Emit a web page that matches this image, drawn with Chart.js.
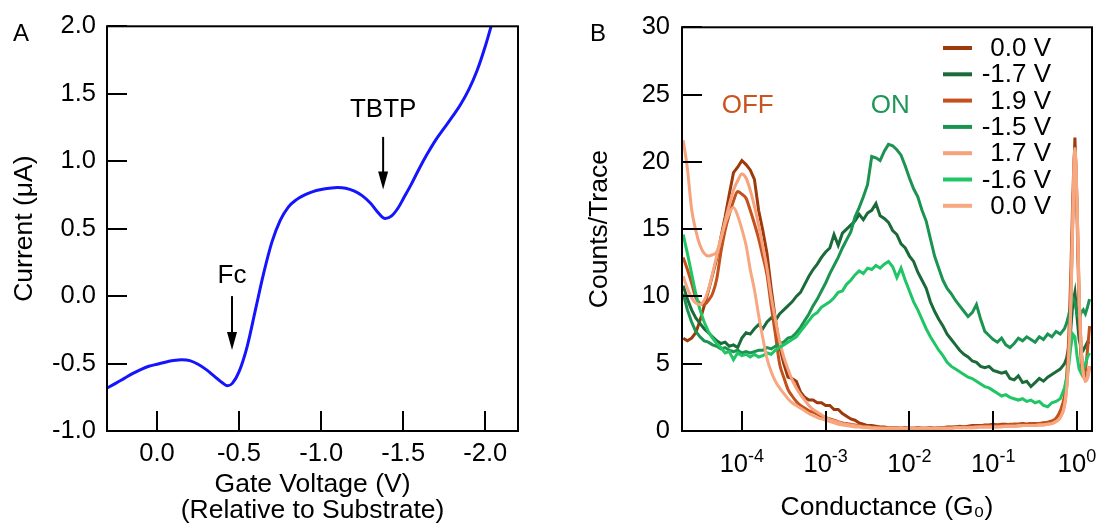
<!DOCTYPE html>
<html>
<head>
<meta charset="utf-8">
<script src="https://cdn.jsdelivr.net/npm/chart.js@4.4.1/dist/chart.umd.min.js"></script>
<style>
  body { margin: 0; background: #fff; }
  #wrap { position: relative; width: 1098px; height: 529px; }
  .panel { position: absolute; top: 0; width: 549px; height: 529px; }
</style>
</head>
<body>
<div id="wrap">
  <div class="panel" style="left:0"><canvas id="chartA"></canvas></div>
  <div class="panel" style="left:549px"><canvas id="chartB"></canvas></div>
</div>
<script>
const FONT = '"Liberation Sans", Arial, Helvetica, sans-serif';
Chart.defaults.font.family = FONT;
Chart.defaults.font.size = 25.5;
Chart.defaults.color = '#000';

// ---- Panel A : current vs gate voltage ----
const gateV = [0.31, 0.25, 0.20, 0.15, 0.10, 0.05, 0.00, -0.05, -0.10, -0.15,
  -0.20, -0.25, -0.30, -0.35, -0.40, -0.43, -0.46, -0.50, -0.55, -0.60,
  -0.65, -0.70, -0.75, -0.80, -0.85, -0.90, -0.95, -1.00, -1.05, -1.10,
  -1.15, -1.20, -1.25, -1.30, -1.35, -1.39, -1.43, -1.47, -1.50, -1.55,
  -1.60, -1.65, -1.70, -1.75, -1.80, -1.85, -1.90, -1.95, -2.00, -2.05];
const currentA = [-0.685, -0.645, -0.61, -0.575, -0.545, -0.52, -0.505, -0.49, -0.478, -0.472,
  -0.478, -0.505, -0.545, -0.595, -0.645, -0.665, -0.645, -0.56, -0.37, -0.10,
  0.17, 0.40, 0.56, 0.66, 0.715, 0.75, 0.775, 0.79, 0.80, 0.805,
  0.80, 0.78, 0.745, 0.69, 0.615, 0.575, 0.595, 0.655, 0.72, 0.83,
  0.95, 1.06, 1.16, 1.245, 1.33, 1.42, 1.53, 1.67, 1.85, 2.06];
const voltTicks = [0, -0.5, -1, -1.5, -2];
const currentTicks = [-1, -0.5, 0, 0.5, 1, 1.5, 2];

// ---- Panel B : conductance histograms ----
const logG = [-4.70, -4.65, -4.60, -4.55, -4.50, -4.45, -4.40, -4.35, -4.30, -4.25,
  -4.20, -4.15, -4.10, -4.05, -4.00, -3.95, -3.90, -3.85, -3.80, -3.75,
  -3.70, -3.65, -3.60, -3.55, -3.50, -3.45, -3.40, -3.35, -3.30, -3.25,
  -3.20, -3.15, -3.10, -3.05, -3.00, -2.95, -2.90, -2.85, -2.80, -2.75,
  -2.70, -2.65, -2.60, -2.55, -2.50, -2.45, -2.40, -2.35, -2.30, -2.25,
  -2.20, -2.15, -2.10, -2.05, -2.00, -1.95, -1.90, -1.85, -1.80, -1.75,
  -1.70, -1.65, -1.60, -1.55, -1.50, -1.45, -1.40, -1.35, -1.30, -1.25,
  -1.20, -1.15, -1.10, -1.05, -1.00, -0.95, -0.90, -0.85, -0.80, -0.75,
  -0.70, -0.65, -0.60, -0.55, -0.50, -0.45, -0.40, -0.35, -0.30, -0.25,
  -0.20, -0.15, -0.125, -0.10, -0.075, -0.05, -0.025, 0.00, 0.025, 0.05,
  0.075, 0.10, 0.125, 0.15];

const biasLabels = ['0.0 V', '-1.7 V', '1.9 V', '-1.5 V', '1.7 V', '-1.6 V', '0.0 V'];

const counts00a = [6.9, 6.7, 6.9, 7.3, 8.2, 9.3, 10.4, 11.6, 12.8, 14.4,
  15.9, 17.6, 19.2, 19.6, 20.1, 19.8, 19.4, 18.7, 16.4, 14.9,
  13.2, 10.6, 8.3, 6.3, 5.0, 4.0, 3.9, 3.7, 2.9, 2.5,
  2.3, 2.3, 2.1, 2.1, 1.9, 1.9, 1.6, 1.6, 1.3, 1.1,
  0.9, 0.8, 0.6, 0.5, 0.4, 0.4, 0.35, 0.3, 0.3, 0.25,
  0.25, 0.25, 0.2, 0.25, 0.2, 0.2, 0.25, 0.2, 0.2, 0.25,
  0.2, 0.25, 0.25, 0.3, 0.3, 0.3, 0.35, 0.3, 0.35, 0.4,
  0.4, 0.4, 0.45, 0.45, 0.5, 0.45, 0.5, 0.5, 0.45, 0.5,
  0.5, 0.55, 0.5, 0.55, 0.5, 0.55, 0.6, 0.6, 0.7, 0.8,
  1.1, 2.0, 3.2, 5.5, 9.5, 16.0, 21.8, 17.0, 10.0, 6.0,
  4.3, 3.8, 4.0, 4.8];
const countsM17 = [10.8, 9.8, 9.0, 8.4, 8.0, 7.6, 7.3, 7.0, 6.7, 6.5,
  6.6, 6.3, 6.4, 6.2, 6.9, 7.3, 7.2, 7.6, 7.9, 7.6,
  8.1, 8.4, 8.2, 8.7, 9.0, 9.3, 9.6, 10.0, 10.3, 10.9,
  11.5, 12.0, 12.4, 12.9, 13.3, 13.6, 14.6, 13.8, 14.7, 15.0,
  15.3, 15.6, 16.1, 15.7, 16.2, 16.4, 16.9, 16.0, 15.8, 15.5,
  14.9, 14.6, 13.9, 13.6, 13.0, 12.6, 11.8, 11.2, 10.6, 9.6,
  8.9, 8.3, 7.8, 7.2, 6.8, 6.4, 6.0, 5.7, 5.5, 5.2,
  5.1, 4.8, 4.7, 4.8, 4.5, 4.4, 4.3, 4.4, 3.9, 3.8,
  4.1, 3.6, 3.7, 3.3, 3.6, 3.9, 3.7, 4.0, 4.2, 4.4,
  4.6, 5.0, 5.4, 6.2, 7.5, 9.5, 10.3, 8.5, 6.8, 6.2,
  6.0, 6.3, 6.6, 6.5];
const counts19 = [12.9, 12.0, 11.0, 9.9, 9.5, 9.4, 9.7, 10.2, 11.3, 13.3,
  14.9, 16.1, 17.1, 17.8, 17.6, 17.3, 16.4, 15.4, 14.3, 13.0,
  11.6, 9.3, 7.2, 5.0, 4.0, 3.1, 2.6, 2.2, 1.9, 1.7,
  1.5, 1.4, 1.25, 1.1, 1.0, 0.9, 0.8, 0.7, 0.6, 0.55,
  0.5, 0.45, 0.4, 0.35, 0.3, 0.3, 0.25, 0.25, 0.2, 0.2,
  0.2, 0.2, 0.2, 0.2, 0.2, 0.2, 0.2, 0.2, 0.2, 0.2,
  0.2, 0.2, 0.25, 0.25, 0.25, 0.3, 0.3, 0.3, 0.3, 0.35,
  0.35, 0.35, 0.4, 0.4, 0.4, 0.45, 0.45, 0.45, 0.5, 0.5,
  0.5, 0.5, 0.5, 0.55, 0.55, 0.55, 0.6, 0.65, 0.75, 0.95,
  1.5, 2.6, 4.0, 6.8, 11.5, 17.5, 21.0, 16.0, 9.0, 5.2,
  4.0, 4.5, 6.0, 7.8];
const countsM15 = [10.2, 9.0, 8.1, 7.4, 7.0, 6.7, 6.6, 6.4, 6.3, 6.1,
  6.2, 6.0, 5.9, 6.0, 5.8, 5.9, 5.8, 5.9, 6.0, 6.0,
  6.2, 6.1, 6.3, 6.5, 6.6, 6.9, 7.0, 7.3, 7.7, 8.2,
  8.7, 9.3, 9.8, 10.4, 11.0, 11.7, 12.3, 12.9, 13.6, 14.2,
  14.8, 15.9, 16.6, 17.4, 18.3, 20.4, 20.3, 20.1, 20.8, 21.3,
  21.2, 20.9, 20.5, 19.7, 18.8, 18.0, 17.4, 16.4, 15.6, 14.3,
  13.0, 12.1, 11.2, 10.6, 10.2, 9.7, 9.3, 8.9, 8.5, 8.8,
  9.4, 8.3, 7.4, 7.1, 6.8, 6.6, 6.9, 6.4, 6.2, 6.5,
  6.9, 6.7, 7.0, 6.8, 6.6, 7.0, 6.8, 7.2, 7.0, 7.4,
  7.2, 7.6, 8.0, 8.6, 9.3, 9.9, 9.6, 8.7, 8.4, 8.8,
  9.0, 8.7, 9.2, 9.8];
const counts17 = [21.6, 19.5, 16.5, 14.9, 13.8, 13.2, 13.0, 13.1, 13.3, 14.3,
  15.6, 16.8, 17.9, 18.6, 19.1, 18.8, 17.9, 16.7, 15.3, 13.7,
  12.1, 10.0, 8.3, 6.7, 5.5, 4.6, 3.8, 3.2, 2.7, 2.3,
  1.9, 1.6, 1.4, 1.2, 1.0, 0.85, 0.75, 0.65, 0.55, 0.5,
  0.45, 0.4, 0.35, 0.3, 0.3, 0.25, 0.25, 0.2, 0.2, 0.2,
  0.2, 0.2, 0.2, 0.2, 0.2, 0.2, 0.2, 0.2, 0.2, 0.2,
  0.2, 0.2, 0.2, 0.2, 0.2, 0.25, 0.25, 0.25, 0.25, 0.25,
  0.3, 0.3, 0.3, 0.3, 0.3, 0.3, 0.35, 0.35, 0.35, 0.35,
  0.4, 0.4, 0.4, 0.4, 0.4, 0.45, 0.45, 0.5, 0.55, 0.7,
  1.0, 1.8, 3.0, 5.2, 9.0, 15.5, 21.0, 17.2, 10.5, 6.2,
  4.3, 3.7, 3.9, 4.6];
const countsM16 = [14.6, 13.2, 11.7, 10.2, 9.0, 8.1, 7.4, 6.9, 6.5, 6.2,
  5.8, 5.9, 5.3, 5.8, 5.6, 5.7, 5.5, 5.7, 5.5, 5.6,
  5.8, 5.7, 6.0, 6.2, 6.4, 6.6, 6.8, 7.0, 7.4, 7.8,
  8.2, 8.6, 8.8, 9.2, 9.4, 9.6, 9.9, 10.3, 10.4, 10.9,
  11.2, 11.6, 11.9, 11.7, 12.1, 12.0, 12.3, 12.1, 12.4, 12.6,
  12.2, 11.4, 12.1, 11.2, 10.4, 9.6, 9.0, 8.3, 7.6, 7.0,
  6.5, 6.0, 5.6, 5.1, 4.8, 4.6, 4.4, 4.2, 4.0, 3.9,
  3.7, 3.5, 3.3, 3.2, 3.0, 2.8, 2.6, 2.7, 2.5, 2.4,
  2.3, 2.4, 2.2, 2.3, 2.1, 2.2, 1.9, 1.8, 2.1, 2.2,
  2.4, 3.2, 3.9, 4.8, 6.2, 7.2, 7.0, 5.6, 4.6, 4.3,
  4.6, 5.0, 5.5, 5.8];
const counts00b = [11.5, 10.6, 9.9, 9.5, 9.4, 9.7, 10.5, 11.7, 13.0, 14.3,
  15.4, 16.2, 16.6, 16.0, 15.0, 13.8, 12.0, 10.5, 8.6, 6.9,
  5.4, 4.4, 3.7, 3.2, 2.8, 2.4, 2.1, 1.9, 1.7, 1.5,
  1.3, 1.15, 1.0, 0.9, 0.8, 0.7, 0.6, 0.5, 0.45, 0.4,
  0.35, 0.3, 0.3, 0.25, 0.25, 0.2, 0.2, 0.2, 0.2, 0.2,
  0.2, 0.2, 0.2, 0.2, 0.2, 0.2, 0.2, 0.2, 0.2, 0.2,
  0.2, 0.2, 0.2, 0.2, 0.2, 0.25, 0.25, 0.25, 0.25, 0.25,
  0.25, 0.3, 0.3, 0.3, 0.3, 0.3, 0.3, 0.35, 0.35, 0.35,
  0.35, 0.4, 0.4, 0.4, 0.4, 0.45, 0.45, 0.5, 0.55, 0.7,
  1.0, 1.9, 3.1, 5.4, 9.3, 15.8, 20.8, 17.0, 10.2, 6.0,
  4.2, 3.8, 4.0, 4.8];

const countTicks = [0, 5, 10, 15, 20, 25, 30];
const decadeTicks = [1e-4, 1e-3, 1e-2, 1e-1, 1];

// frame box with inward tick marks (like the original Igor plots)
function drawFrame(chart, tickLen) {
  const {ctx, chartArea: a, scales} = chart;
  ctx.save();
  ctx.strokeStyle = '#000';
  ctx.lineWidth = 2;
  ctx.strokeRect(a.left, a.top, a.right - a.left, a.bottom - a.top);
  ctx.beginPath();
  scales.x.ticks.forEach(t => {
    const px = Math.round(scales.x.getPixelForValue(t.value));
    ctx.moveTo(px, a.bottom);
    ctx.lineTo(px, a.bottom - tickLen);
  });
  scales.y.ticks.forEach(t => {
    const py = Math.round(scales.y.getPixelForValue(t.value));
    ctx.moveTo(a.left, py);
    ctx.lineTo(a.left + tickLen, py);
  });
  ctx.stroke();
  ctx.restore();
}

const decorA = {
  id: 'decorA',
  afterDatasetsDraw(chart, args, opts) {
    drawFrame(chart, 20);
    const {ctx, scales: {x, y}} = chart;
    ctx.save();
    ctx.fillStyle = '#000';
    ctx.font = '24px ' + FONT;
    ctx.textAlign = 'center';
    ctx.textBaseline = 'middle';
    ctx.fillText('A', 21, 34);
    // arrows pointing at the two redox dips
    opts.marks.forEach(m => {
      const px = x.getPixelForValue(m.gate);
      const yTop = y.getPixelForValue(m.from);
      const yTip = y.getPixelForValue(m.to);
      ctx.font = '26px ' + FONT;
      ctx.fillText(m.name, px, y.getPixelForValue(m.textAt));
      ctx.strokeStyle = '#000';
      ctx.lineWidth = 2;
      ctx.beginPath();
      ctx.moveTo(px, yTop);
      ctx.lineTo(px, yTip - 14);
      ctx.stroke();
      ctx.beginPath();
      ctx.moveTo(px - 5, yTip - 18);
      ctx.lineTo(px + 5, yTip - 18);
      ctx.lineTo(px, yTip);
      ctx.closePath();
      ctx.fill();
    });
    ctx.restore();
  }
};

new Chart(document.getElementById('chartA'), {
  type: 'line',
  data: {
    datasets: [{
      data: gateV.map((v, i) => ({x: v, y: currentA[i]})),
      borderColor: '#1414ff',
      borderWidth: 3,
      pointRadius: 0,
      cubicInterpolationMode: 'monotone'
    }]
  },
  options: {
    responsive: true,
    maintainAspectRatio: false,
    animation: false,
    layout: { padding: { left: 0, right: 31, top: 24, bottom: 0 } },
    plugins: {
      legend: { display: false },
      tooltip: { enabled: false },
      decorA: {
        marks: [
          { name: 'Fc', gate: -0.457, from: 0.0, to: -0.40, textAt: 0.147 },
          { name: 'TBTP', gate: -1.378, from: 1.18, to: 0.79, textAt: 1.38 }
        ]
      }
    },
    scales: {
      x: {
        type: 'linear',
        reverse: true,
        min: -2.2,
        max: 0.305,
        afterBuildTicks: s => { s.ticks = voltTicks.map(v => ({value: v})); },
        afterFit: s => { s.height = 98; },
        grid: { display: false, drawTicks: false },
        border: { display: false },
        ticks: { padding: 8, callback: v => Number(v).toFixed(1) },
        title: {
          display: true,
          text: ['Gate Voltage (V)', '(Relative to Substrate)'],
          font: { size: 26.5, lineHeight: 0.96 },
          padding: { top: 0, bottom: 6 }
        }
      },
      y: {
        type: 'linear',
        min: -1,
        max: 2,
        afterBuildTicks: s => { s.ticks = currentTicks.map(v => ({value: v})); },
        afterFit: s => { s.width = 107; },
        grid: { display: false, drawTicks: false },
        border: { display: false },
        ticks: { padding: 11, callback: v => Number(v).toFixed(1) },
        title: {
          display: true,
          text: 'Current (\u03bcA)',
          font: { size: 26.5, lineHeight: 1 },
          padding: { top: 11, bottom: 0 }
        }
      }
    }
  },
  plugins: [decorA]
});

const decorB = {
  id: 'decorB',
  afterDatasetsDraw(chart, args, opts) {
    drawFrame(chart, 20);
    const {ctx, chartArea: a, scales: {x, y}} = chart;
    ctx.save();
    ctx.fillStyle = '#000';
    ctx.font = '24px ' + FONT;
    ctx.textAlign = 'center';
    ctx.textBaseline = 'middle';
    ctx.fillText('B', 49, 34);

    // decade labels 10^n with raised exponent
    ctx.textAlign = 'left';
    ctx.textBaseline = 'alphabetic';
    decadeTicks.forEach(v => {
      const px = x.getPixelForValue(v);
      const exp = String(Math.round(Math.log10(v)));
      ctx.font = '25.5px ' + FONT;
      const wb = ctx.measureText('10').width;
      ctx.font = '18px ' + FONT;
      const we = ctx.measureText(exp).width;
      const x0 = px - (wb + we) / 2;
      ctx.font = '25.5px ' + FONT;
      ctx.fillText('10', x0, a.bottom + 41);
      ctx.font = '18px ' + FONT;
      ctx.fillText(exp, x0 + wb, a.bottom + 31);
    });

    // OFF / ON state labels
    ctx.textAlign = 'center';
    ctx.textBaseline = 'middle';
    ctx.font = '26px ' + FONT;
    opts.states.forEach(s => {
      ctx.fillStyle = s.color;
      ctx.fillText(s.text, x.getPixelForValue(s.g), y.getPixelForValue(s.c));
    });

    // legend: short line, right-aligned label
    chart.data.datasets.forEach((ds, i) => {
      const yy = 48 + i * 26.3;
      ctx.strokeStyle = ds.borderColor;
      ctx.lineWidth = 4;
      ctx.beginPath();
      ctx.moveTo(a.right - 149, yy);
      ctx.lineTo(a.right - 120, yy);
      ctx.stroke();
      ctx.fillStyle = '#000';
      ctx.textAlign = 'right';
      ctx.fillText(ds.label, a.right - 41, yy + 1);
    });
    ctx.restore();
  }
};

const seriesB = [counts00a, countsM17, counts19, countsM15, counts17, countsM16, counts00b];
const colorsB = ['#9c3a0c', '#1b6b3a', '#c4501c', '#1a9450', '#f6a27c', '#20c665', '#f7a880'];
const smoothB = [false, false, true, false, true, false, true];

new Chart(document.getElementById('chartB'), {
  type: 'line',
  data: {
    datasets: seriesB.map((vals, i) => ({
      label: biasLabels[i],
      data: logG.map((l, j) => ({x: Math.pow(10, l), y: vals[j]})),
      borderColor: colorsB[i],
      borderWidth: 3,
      pointRadius: 0,
      tension: 0,
      cubicInterpolationMode: smoothB[i] ? 'monotone' : 'default',
      order: 10 - i
    }))
  },
  options: {
    responsive: true,
    maintainAspectRatio: false,
    animation: false,
    layout: { padding: { left: 0, right: 6, top: 24, bottom: 0 } },
    plugins: {
      legend: { display: false },
      tooltip: { enabled: false },
      decorB: {
        states: [
          { text: 'OFF', g: Math.pow(10, -3.93), c: 24.2, color: '#c9541f' },
          { text: 'ON', g: Math.pow(10, -2.23), c: 24.2, color: '#20965a' }
        ]
      }
    },
    scales: {
      x: {
        type: 'logarithmic',
        min: 1.93e-5,
        max: 1.51,
        afterBuildTicks: s => { s.ticks = decadeTicks.map(v => ({value: v})); },
        afterFit: s => { s.height = 98; },
        grid: { display: false, drawTicks: false },
        border: { display: false },
        ticks: { display: false },
        title: {
          display: true,
          text: 'Conductance (G\u2080)',
          font: { size: 26.5, lineHeight: 1 },
          padding: { top: 0, bottom: 8 }
        }
      },
      y: {
        type: 'linear',
        min: 0,
        max: 30,
        afterBuildTicks: s => { s.ticks = countTicks.map(v => ({value: v})); },
        afterFit: s => { s.width = 133; },
        grid: { display: false, drawTicks: false },
        border: { display: false },
        ticks: { padding: 12 },
        title: {
          display: true,
          text: 'Counts/Trace',
          font: { size: 26.5, lineHeight: 1 },
          padding: { top: 37, bottom: 0 }
        }
      }
    }
  },
  plugins: [decorB]
});
</script>
</body>
</html>
